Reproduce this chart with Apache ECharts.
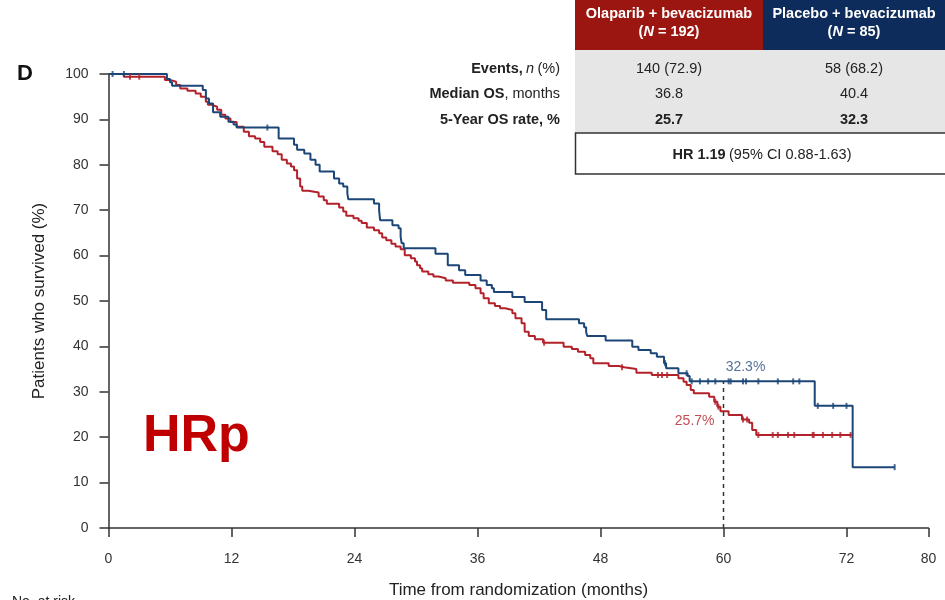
<!DOCTYPE html>
<html>
<head>
<meta charset="utf-8">
<script src="https://cdn.jsdelivr.net/npm/echarts@6/dist/echarts.min.js"></script>
<style>html,body{margin:0;padding:0;background:#fff;}#c{width:945px;height:600px;}</style>
</head>
<body>
<div id="c"></div>
<script>
// ---- data ----
var xTicks = [0, 12, 24, 36, 48, 60, 72, 80];
var placeboKM = [[0,100],[5.7,98.9],[6.0,98.2],[6.2,97.4],[9.2,96.5],[9.5,94.6],[9.8,93.5],[10.2,91.6],
  [10.9,90.6],[11.7,89.5],[12.2,88.9],[12.5,88.2],[16.6,85.8],[18.1,84.4],[18.4,83.3],
  [19.1,82.5],[19.7,81.1],[20.2,80.0],[20.6,78.5],[22.0,77.0],[22.5,75.9],[22.9,75.2],[23.3,73.7],[23.4,72.4],
  [25.9,71.5],[26.4,70.0],[26.5,67.8],[27.7,66.7],[28.3,66.0],[28.5,64.2],[28.6,62.7],[28.8,61.6],
  [31.9,60.4],[33.1,57.9],[34.2,56.8],[34.8,55.7],[36.3,54.5],[36.9,53.5],[37.4,52.8],[37.6,52.0],
  [39.4,50.9],[40.6,49.8],[42.3,48.0],[42.7,46.0],[45.9,45.1],[46.4,44.2],[46.6,43.2],[46.7,42.3],
  [48.5,41.3],[51.1,39.9],[51.7,39.2],[52.9,38.5],[53.5,37.7],[54.2,36.3],[54.4,35.2],
  [55.6,34.1],[56.5,33.5],[56.7,32.3],[68.9,26.9],[72.6,13.4],[76.7,13.4]];
var olaparibKM = [[0,100],[1.5,99.4],[5.5,98.7],[6.0,98.3],[6.6,97.6],[7.0,96.8],
  [7.7,96.3],[8.5,95.7],[9.0,95.0],[9.5,93.9],[9.7,93.2],[10.1,92.8],[10.6,92.1],[11.0,91.0],[11.4,90.2],
  [11.9,89.4],[12.5,88.4],[13.2,87.3],[13.7,86.3],[14.3,85.8],[14.8,85.0],[15.2,84.0],[16.0,83.0],
  [16.5,82.3],[16.9,81.1],[17.4,80.3],[17.8,79.6],[18.1,78.8],[18.4,77.0],[18.7,75.2],[18.9,74.3],
  [19.5,73.9],[20.5,73.0],[21.0,72.2],[21.3,71.4],[22.5,70.6],[22.9,69.7],[23.2,68.8],[23.9,68.2],
  [24.4,67.7],[24.7,67.2],[25.2,66.2],[25.9,65.6],[26.4,64.9],[26.7,64.0],[27.1,63.4],[27.6,62.6],
  [28.0,62.0],[28.5,61.4],[28.9,60.1],[29.5,59.4],[29.9,58.7],[30.1,57.9],[30.4,57.2],[30.6,56.5],
  [31.2,55.9],[31.7,55.4],[32.2,55.0],[32.9,54.5],[33.6,54.0],[35.2,53.5],[35.8,52.8],[36.3,51.7],
  [36.6,50.6],[37.1,49.5],[37.7,48.9],[38.2,48.4],[38.7,48.0],[39.4,47.3],[39.7,46.2],[40.3,45.1],
  [40.6,43.2],[41.0,42.3],[41.6,41.6],[42.4,40.8],[44.4,39.9],[45.2,39.4],[45.8,38.8],[46.5,38.1],
  [47.0,37.4],[47.3,36.3],[48.8,35.7],[49.8,35.4],[50.3,35.0],[51.5,34.2],[53.0,33.7],
  [55.6,33.0],[56.1,32.2],[56.4,31.5],[56.8,30.4],[57.1,29.7],[58.6,28.9],[59.1,27.8],[59.4,26.7],
  [59.7,25.7],[60.5,24.9],[61.8,23.9],[62.5,23.2],[62.8,21.6],[63.2,20.5],[72.5,20.5]];
var placeboCensor = [0.4, 1.5, 15.5, 54.3, 56.4, 56.9, 57.7, 58.5, 59.2, 60.5, 60.7, 61.9, 62.2, 63.4,
  65.3, 66.8, 67.4, 69.2, 70.7, 72.0, 76.7];
var olaparibCensor = [2.1, 3.0, 42.5, 50.1, 53.6, 54.0, 54.5, 59.2, 59.5, 61.9, 62.3, 63.4, 64.8, 65.3,
  66.3, 66.9, 68.7, 68.8, 69.7, 70.6, 71.4, 72.4];
var landmark = 60;
var rate5yPlacebo = 32.3, rate5yOlaparib = 25.7;
var groupNames = ['Olaparib + bevacizumab', 'Placebo + bevacizumab'];
var groupN = [192, 85];
var eventsTxt = ['140 (72.9)', '58 (68.2)'];
var medianOS = ['36.8', '40.4'];
var fiveYear = ['25.7', '32.3'];
var hrText = ['HR 1.19', '(95% CI 0.88-1.63)'];

// ---- helpers ----
function survAt(curve, t) {
  var y = curve[0][1];
  for (var i = 0; i < curve.length; i++) { if (curve[i][0] <= t) y = curve[i][1]; else break; }
  return y;
}
var RED = '#b3222a', BLUE = '#1c4677';
var font = 'Liberation Sans, Arial, sans-serif';
var FS = '14.5px ';
var chart = echarts.init(document.getElementById('c'));

var colX = [669, 854];
var rowsY = [69, 94, 120];
var graphic = [
  {type:'rect', shape:{x:575,y:0,width:188,height:50}, style:{fill:'#9c1611'}},
  {type:'rect', shape:{x:763,y:0,width:182,height:50}, style:{fill:'#0d2c5b'}},
  {type:'rect', shape:{x:575,y:50,width:370,height:83}, style:{fill:'#e6e6e6'}},
  {type:'rect', shape:{x:575.5,y:133,width:380,height:41}, style:{fill:'#fff', stroke:'#333', lineWidth:1.5}},
  {type:'text', x:25, y:74, style:{text:'D', font:'bold 22px ' + font, fill:'#111', align:'center', verticalAlign:'middle'}},
  {type:'text', x:143, y:437, style:{text:'HRp', font:'bold 52px ' + font, fill:'#c00000', align:'left', verticalAlign:'middle'}}
];
for (var g = 0; g < 2; g++) {
  graphic.push({type:'text', x:colX[g], y:14, style:{text:groupNames[g], font:'bold ' + FS + font, fill:'#fff', align:'center', verticalAlign:'middle'}});
  graphic.push({type:'text', x:colX[g], y:32, style:{
    text:'{b|(}{bi|N}{b| = ' + groupN[g] + ')}', align:'center', verticalAlign:'middle',
    rich:{b:{font:'bold ' + FS + font, fill:'#fff'}, bi:{font:'italic bold ' + FS + font, fill:'#fff'}}}});
  graphic.push({type:'text', x:colX[g], y:rowsY[0], style:{text:eventsTxt[g], font:FS + font, fill:'#222', align:'center', verticalAlign:'middle'}});
  graphic.push({type:'text', x:colX[g], y:rowsY[1], style:{text:medianOS[g], font:FS + font, fill:'#222', align:'center', verticalAlign:'middle'}});
  graphic.push({type:'text', x:colX[g], y:rowsY[2], style:{text:fiveYear[g], font:'bold ' + FS + font, fill:'#222', align:'center', verticalAlign:'middle'}});
}
var richRow = {b:{font:'bold ' + FS + font, fill:'#222'}, i:{font:'italic ' + FS + font, fill:'#222'}, n:{font:FS + font, fill:'#222'}};
graphic.push({type:'text', x:560, y:rowsY[0], style:{text:'{b|Events,} {i|n} {n|(%)}', rich:richRow, align:'right', verticalAlign:'middle'}});
graphic.push({type:'text', x:560, y:rowsY[1], style:{text:'{b|Median OS}{n|, months}', rich:richRow, align:'right', verticalAlign:'middle'}});
graphic.push({type:'text', x:560, y:rowsY[2], style:{text:'{b|5-Year OS rate, %}', rich:richRow, align:'right', verticalAlign:'middle'}});
graphic.push({type:'text', x:762, y:155, style:{text:'{b|' + hrText[0] + '} {n|' + hrText[1] + '}', rich:richRow, align:'center', verticalAlign:'middle'}});
graphic.push({type:'text', x:12, y:595, style:{text:'No. at risk', font:'14px ' + font, fill:'#222', align:'left', verticalAlign:'top'}});

var axisTxt = {color:'#333', fontSize:14, fontFamily:font};
chart.setOption({
  animation:false,
  grid:{left:108.5, right:16.5, top:74, bottom:72, containLabel:false, outerBoundsMode:'none'},
  xAxis:{type:'value', min:0, max:80,
    name:'Time from randomization (months)', nameLocation:'middle', nameGap:54,
    nameTextStyle:{color:'#222', fontSize:17, fontFamily:font},
    axisLine:{lineStyle:{color:'#333', width:1.5}},
    axisTick:{length:9, lineStyle:{color:'#333', width:1.5}, customValues:xTicks},
    axisLabel:Object.assign({margin:24, customValues:xTicks}, axisTxt),
    splitLine:{show:false}},
  yAxis:{type:'value', min:0, max:100, interval:10,
    name:'Patients who survived (%)', nameLocation:'middle', nameGap:61,
    nameTextStyle:{color:'#222', fontSize:17, fontFamily:font},
    axisLine:{show:true, lineStyle:{color:'#333', width:1.5}},
    axisTick:{show:true, length:9, lineStyle:{color:'#333', width:1.5}},
    axisLabel:Object.assign({margin:20}, axisTxt),
    splitLine:{show:false}},
  graphic:graphic,
  series:[
    {type:'line', data:[[landmark,0],[landmark,rate5yPlacebo]], showSymbol:false, silent:true,
      lineStyle:{color:'#333', width:1.5, type:[4,4]}, z:1},
    {type:'line', name:groupNames[0], data:olaparibKM, step:'end', showSymbol:false,
      lineStyle:{color:RED, width:2}, z:2},
    {type:'line', name:groupNames[1], data:placeboKM, step:'end', showSymbol:false,
      lineStyle:{color:BLUE, width:2}, z:3},
    {type:'scatter', data:olaparibCensor.map(function(t){return [t, survAt(olaparibKM, t)];}),
      symbol:'rect', symbolSize:[2,6], itemStyle:{color:RED}, z:4},
    {type:'scatter', data:placeboCensor.map(function(t){return [t, survAt(placeboKM, t)];}),
      symbol:'rect', symbolSize:[2,6], itemStyle:{color:BLUE}, z:5},
    {type:'scatter', data:[[landmark, rate5yPlacebo]], symbolSize:0, silent:true,
      label:{show:true, formatter:rate5yPlacebo + '%', position:'top', offset:[22,-2], color:'#2b4f7e', fontSize:14, fontFamily:font}, z:6},
    {type:'scatter', data:[[landmark, rate5yOlaparib]], symbolSize:0, silent:true,
      label:{show:true, formatter:rate5yOlaparib + '%', position:'left', offset:[-4,10], color:RED, fontSize:14, fontFamily:font}, z:6}
  ]
});
</script>
</body>
</html>
